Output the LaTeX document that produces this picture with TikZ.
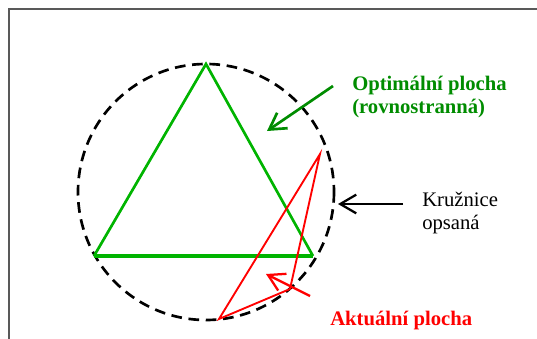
\documentclass[tikz,border=0pt]{standalone}
\usepackage{fontspec}
\setmainfont{Liberation Serif}
\usepackage{tikz}
\usetikzlibrary{positioning,arrows.meta}

\definecolor{optgreen}{RGB}{0,140,0}
\definecolor{trigreen}{RGB}{0,180,0}

\begin{document}
\begin{tikzpicture}[
    x=0.75pt, y=-0.75pt,
    label/.style={
        inner sep=0pt,
        anchor=west,
        align=left,
        font=\fontsize{15.5}{17.25}\selectfont
    },
    pointer/.style={-{Straight Barb[length=12pt,width=14pt]}, line width=2pt},
    edge/.style={line width=2pt, trigreen}
]
\useasboundingbox (0,0) rectangle (537,339);

% frame
\draw[gray!70!black, line width=1.3pt] (537,9) -- (9,9) -- (9,339);

% circumscribed circle
\coordinate (centre) at (206,192);
\draw[line width=2pt, dash pattern=on 8pt off 5pt] (centre) circle[radius=128];

% optimal triangle
\coordinate (top) at (206,64);
\coordinate (left) at (94,256);
\coordinate (right) at (313,256);
\draw[edge] (left) -- (top) -- (right);
\draw[edge, line width=2.8pt] (left) -- (right);

% actual triangle
\coordinate (a) at (320,154);
\coordinate (b) at (219,319);
\coordinate (c) at (290,289);
\draw[red, line width=1.4pt] (a) -- (b) -- (c) -- cycle;

% labels
\node[label, optgreen] (optimal) at (352,97) {\textbf{Optimální plocha}\\\textbf{(rovnostranná)}};
\node[label] (circle) at (422,213) {Kružnice\\opsaná};
\node[label, red] (actual) at (330,321) {\textbf{Aktuální plocha}};

% pointers
\coordinate (opt tail) at (333,86);
\coordinate (opt tip) at (267,131);
\coordinate (circ tail) at (403,204);
\coordinate (circ tip) at (338,204);
\coordinate (act tail) at (310,296);
\coordinate (act tip) at (266,274);
\draw[pointer, optgreen] (opt tail) -- (opt tip);
\draw[pointer, black, line width=1.7pt] (circ tail) -- (circ tip);
\draw[pointer, red, line width=1.7pt] (act tail) -- (act tip);

\end{tikzpicture}
\end{document}
